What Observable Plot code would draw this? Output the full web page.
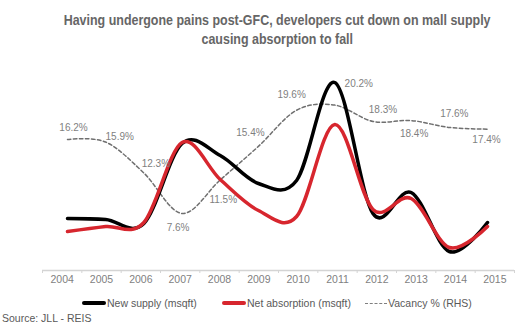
<!DOCTYPE html>
<html>
<head>
<meta charset="utf-8">
<script src="https://cdn.jsdelivr.net/npm/d3@7"></script>
<script src="https://cdn.jsdelivr.net/npm/@observablehq/plot@0.6"></script>
<style>
  html, body { margin: 0; padding: 0; background: #fff; }
  #wrap { position: relative; width: 518px; height: 334px; overflow: hidden;
          font-family: "Liberation Sans", Arial, sans-serif; }
  #wrap svg { position: absolute; left: 0; top: 0; }
  .tl { position: absolute; left: 0; width: 555px; text-align: center; font-weight: bold;
        font-size: 15px; line-height: 19px; color: #666666; }
  .tl span { display: inline-block; transform: scaleX(0.83); transform-origin: center; white-space: nowrap; }
  .leg { position: absolute; top: 295px; font-size: 10.5px; color: #595959; display: flex; align-items: center; height: 16px; white-space: nowrap; }
  .sw { display: inline-block; width: 24px; height: 0; margin-right: 1px; }
  #source { position: absolute; left: 2px; top: 312px; font-size: 10.5px; color: #595959; }
</style>
</head>
<body>
<div id="wrap">
  <div class="tl" style="top:10px"><span>Having undergone pains post-GFC, developers cut down on mall supply</span></div>
  <div class="tl" style="top:29px"><span>causing absorption to fall</span></div>
  <div class="leg" style="left:82px"><span class="sw" style="border-top:4.5px solid #000;border-radius:2px"></span>New supply (msqft)</div>
  <div class="leg" style="left:222px"><span class="sw" style="border-top:4.5px solid #d7262e;border-radius:2px"></span>Net absorption (msqft)</div>
  <div class="leg" style="left:365px"><span class="sw" style="width:22px;border-top:1.5px dashed #7f7f7f"></span>Vacancy % (RHS)</div>
  <div id="source">Source: JLL - REIS</div>
</div>
<script>
const years = [2004, 2005, 2006, 2007, 2008, 2009, 2010, 2011, 2012, 2013, 2014, 2015];
const newSupply = [5.2, 5.1, 4.7, 12.7, 11.5, 8.7, 9.0, 18.8, 5.7, 7.8, 1.9, 4.8];
const netAbsorption = [3.9, 4.4, 4.8, 12.8, 9.1, 6.0, 5.4, 14.6, 6.1, 7.2, 2.3, 4.4];
const vacancy = [16.2, 15.9, 12.3, 7.6, 11.5, 15.4, 19.6, 20.2, 18.3, 18.4, 17.6, 17.4];

// placement of each vacancy label relative to its point [dx, dy]
const labelOffsets = [[6,-12],[14,-5],[12,-9],[-4,14],[3,20],[-8,-14],[-5,-15],[24,-21],[10,-12],[3,13],[5,-14],[-1,11]];

const font = '"Liberation Sans", Arial, sans-serif';
// right-hand (vacancy %) axis mapped onto the left (msqft) axis
const rhs = d3.scaleLinear().domain([0, 25]).range([-0.83, 20.67]);

const wrap = document.getElementById("wrap");

// axis plot (category bands)
const boundaries = years.map(y => y - 0.5).concat([years[years.length - 1] + 0.5]);
const axisPlot = Plot.plot({
  width: 518, height: 334,
  marginLeft: 42, marginRight: 4, marginTop: 0, marginBottom: 64,
  style: {fontFamily: font, fontSize: "10.5px", color: "#7f7f7f", background: "transparent"},
  x: {domain: [boundaries[0], boundaries[boundaries.length - 1]], axis: null},
  y: {domain: [0, 1], axis: null},
  marks: [
    Plot.ruleY([0], {stroke: "#d4d4d4", strokeWidth: 1.5}),
    Plot.axisX({ticks: boundaries, tickSize: 3, tickFormat: () => "", stroke: "#d4d4d4"}),
    Plot.axisX({ticks: years, tickSize: 0, tickPadding: 5, tickFormat: d => String(d), fill: "#7f7f7f", fontSize: 10.5})
  ]
});
wrap.appendChild(axisPlot);

// lines plot
const linePlot = Plot.plot({
  width: 518, height: 334,
  marginLeft: 0, marginRight: 0, marginTop: 0, marginBottom: 0,
  style: {fontFamily: font, fontSize: "10px", background: "transparent"},
  x: {domain: [2004, 2015], range: [67, 487], axis: null},
  y: {domain: [0, 27], range: [270, 0], axis: null},
  marks: [
    Plot.line(years, {x: d => d, y: (d, i) => rhs(vacancy[i]), curve: "cardinal", stroke: "#6f6f6f", strokeWidth: 1.5, strokeDasharray: "3.5,2.5"}),
    Plot.line(years, {x: d => d, y: (d, i) => newSupply[i], curve: "cardinal", stroke: "#000", strokeWidth: 3.5}),
    Plot.line(years, {x: d => d, y: (d, i) => netAbsorption[i], curve: "cardinal", stroke: "#d7262e", strokeWidth: 3.5}),
    ...years.map((yr, i) => Plot.text([i], {
      x: () => yr, y: () => rhs(vacancy[i]), text: () => vacancy[i].toFixed(1) + "%",
      dx: labelOffsets[i][0], dy: labelOffsets[i][1], fill: "#7f7f7f", fontSize: 10
    }))
  ]
});
wrap.appendChild(linePlot);
</script>
</body>
</html>
